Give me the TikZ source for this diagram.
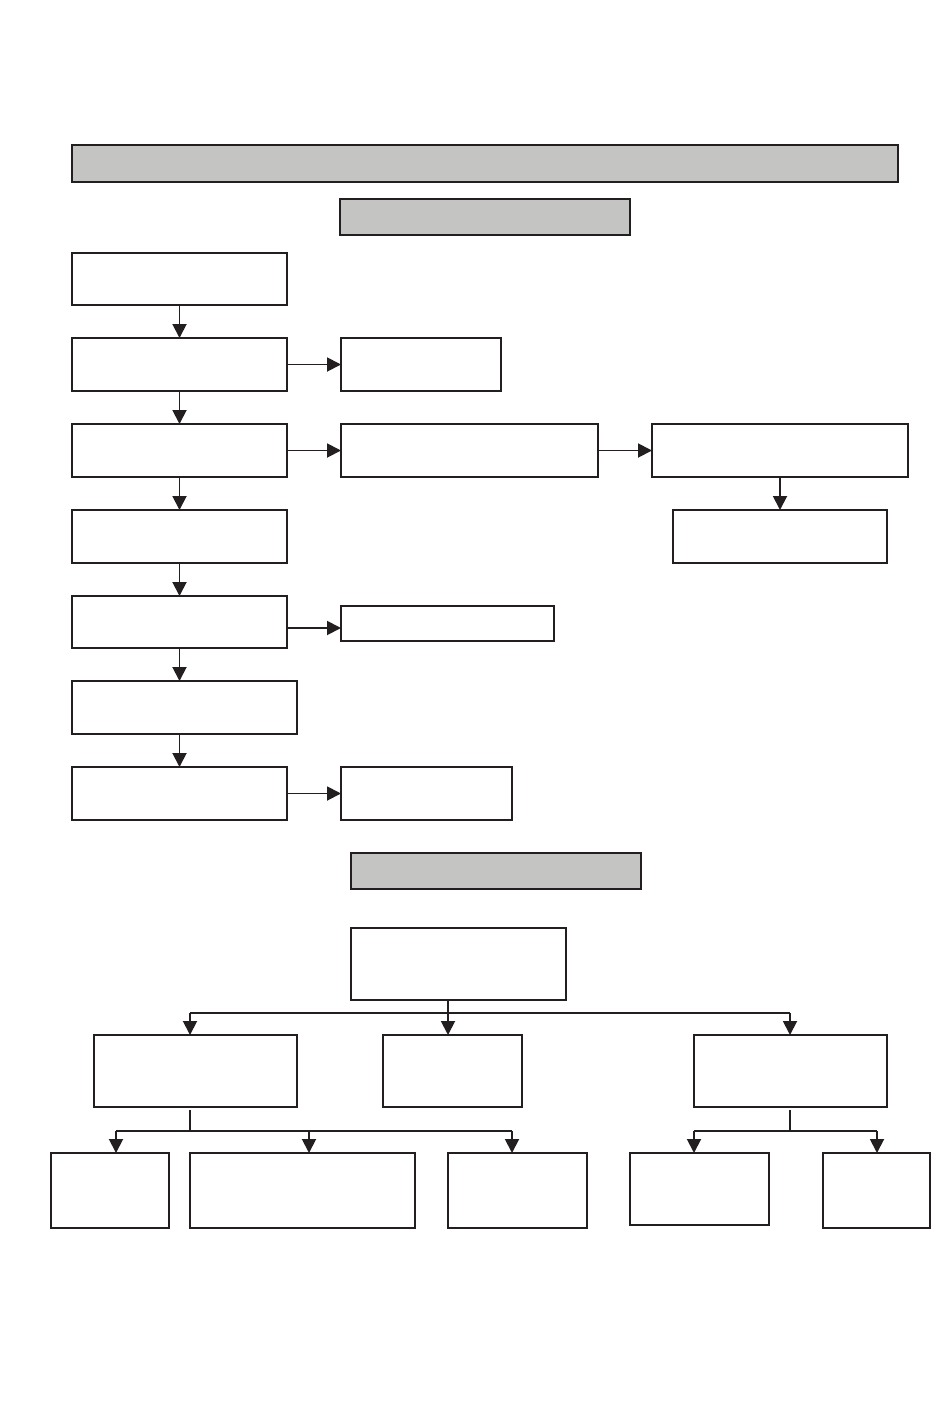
\documentclass[tikz,border=0pt]{standalone}
\usetikzlibrary{arrows.meta}
\definecolor{ink}{HTML}{231F20}
\definecolor{bar}{HTML}{C4C4C2}
\tikzset{
  box/.style={draw=ink, line width=2pt, rectangle, inner sep=0pt, outer sep=0pt, fill=white},
  greybox/.style={box, fill=bar, line width=2.4pt},
  conn/.style={draw=ink, line width=1.9pt},
  arr/.style={conn, -{Triangle[length=14pt,width=14pt]}}
}
\begin{document}
\begin{tikzpicture}[x=1pt,y=-1pt]
\useasboundingbox (0,0) rectangle (950,1419);
% headers
\node[greybox, minimum width=826, minimum height=37] (title) at (485,163.5) {};
\node[greybox, minimum width=290, minimum height=36] (h1) at (485,217) {};
\node[greybox, minimum width=290, minimum height=36] (h2) at (496,871) {};
% left column
\node[box, minimum width=215, minimum height=52] (A1) at (179.5,279) {};
\node[box, minimum width=215, minimum height=53] (A2) at (179.5,364.5) {};
\node[box, minimum width=215, minimum height=53] (A3) at (179.5,450.5) {};
\node[box, minimum width=215, minimum height=53] (A4) at (179.5,536.5) {};
\node[box, minimum width=215, minimum height=52] (A5) at (179.5,622) {};
\node[box, minimum width=225, minimum height=53] (A6) at (184.5,707.5) {};
\node[box, minimum width=215, minimum height=53] (A7) at (179.5,793.5) {};
% side boxes
\node[box, minimum width=160, minimum height=53] (B2) at (421,364.5) {};
\node[box, minimum width=257, minimum height=53] (B3) at (469.5,450.5) {};
\node[box, minimum width=256, minimum height=53] (C3) at (780,450.5) {};
\node[box, minimum width=214, minimum height=53] (C4) at (780,536.5) {};
\node[box, minimum width=213, minimum height=35] (B5) at (447.5,623.5) {};
\node[box, minimum width=171, minimum height=53] (B7) at (426.5,793.5) {};
% tree
\node[box, minimum width=215, minimum height=72] (root) at (458.5,964) {};
\node[box, minimum width=203, minimum height=72] (M1) at (195.5,1071) {};
\node[box, minimum width=139, minimum height=72] (M2) at (452.5,1071) {};
\node[box, minimum width=193, minimum height=72] (M3) at (790.5,1071) {};
\node[box, minimum width=118, minimum height=75] (L1) at (110,1190.5) {};
\node[box, minimum width=225, minimum height=75] (L2) at (302.5,1190.5) {};
\node[box, minimum width=139, minimum height=75] (L3) at (517.5,1190.5) {};
\node[box, minimum width=139, minimum height=72] (R1) at (699.5,1189) {};
\node[box, minimum width=107, minimum height=75] (R2) at (876.5,1190.5) {};
% left column arrows
\draw[arr] (A1.south) -- (A2.north);
\draw[arr] (A2.south) -- (A3.north);
\draw[arr] (A3.south) -- (A4.north);
\draw[arr] (A4.south) -- (A5.north);
\draw[arr] (A5.south) -- (A5.south |- A6.north);
\draw[arr] (A6.south -| A7.north) -- (A7.north);
% horizontal arrows
\draw[arr] (A2.east) -- (B2.west);
\draw[arr] (A3.east) -- (B3.west);
\draw[arr] (B3.east) -- (C3.west);
\draw[arr] (C3.south) -- (C4.north);
\coordinate (r5) at (287,628);
\draw[arr] (r5) -- (r5 -| B5.west);
\draw[arr] (A7.east) -- (B7.west);
% tree connectors
\coordinate (j0) at (448,1013);
\coordinate (jl) at (190,1013);
\coordinate (jr) at (790,1013);
\draw[conn] (root.south -| j0) -- (j0);
\draw[conn] (jl) -- (jr);
\draw[arr] (jl) -- (jl |- M1.north);
\draw[arr] (j0) -- (j0 |- M2.north);
\draw[arr] (jr) -- (jr |- M3.north);
\coordinate (k0) at (190,1131);
\coordinate (kl) at (116,1131);
\coordinate (km) at (309,1131);
\coordinate (kr) at (512,1131);
\draw[conn] (k0 |- M1.south) ++(0,3) -- (k0);
\draw[conn] (kl) -- (kr);
\draw[arr] (kl) -- (kl |- L1.north);
\draw[arr] (km) -- (km |- L2.north);
\draw[arr] (kr) -- (kr |- L3.north);
\coordinate (n0) at (790,1131);
\coordinate (nl) at (694,1131);
\coordinate (nr) at (877,1131);
\draw[conn] (n0 |- M3.south) ++(0,3) -- (n0);
\draw[conn] (nl) -- (nr);
\draw[arr] (nl) -- (nl |- R1.north);
\draw[arr] (nr) -- (nr |- R2.north);
\end{tikzpicture}
\end{document}
